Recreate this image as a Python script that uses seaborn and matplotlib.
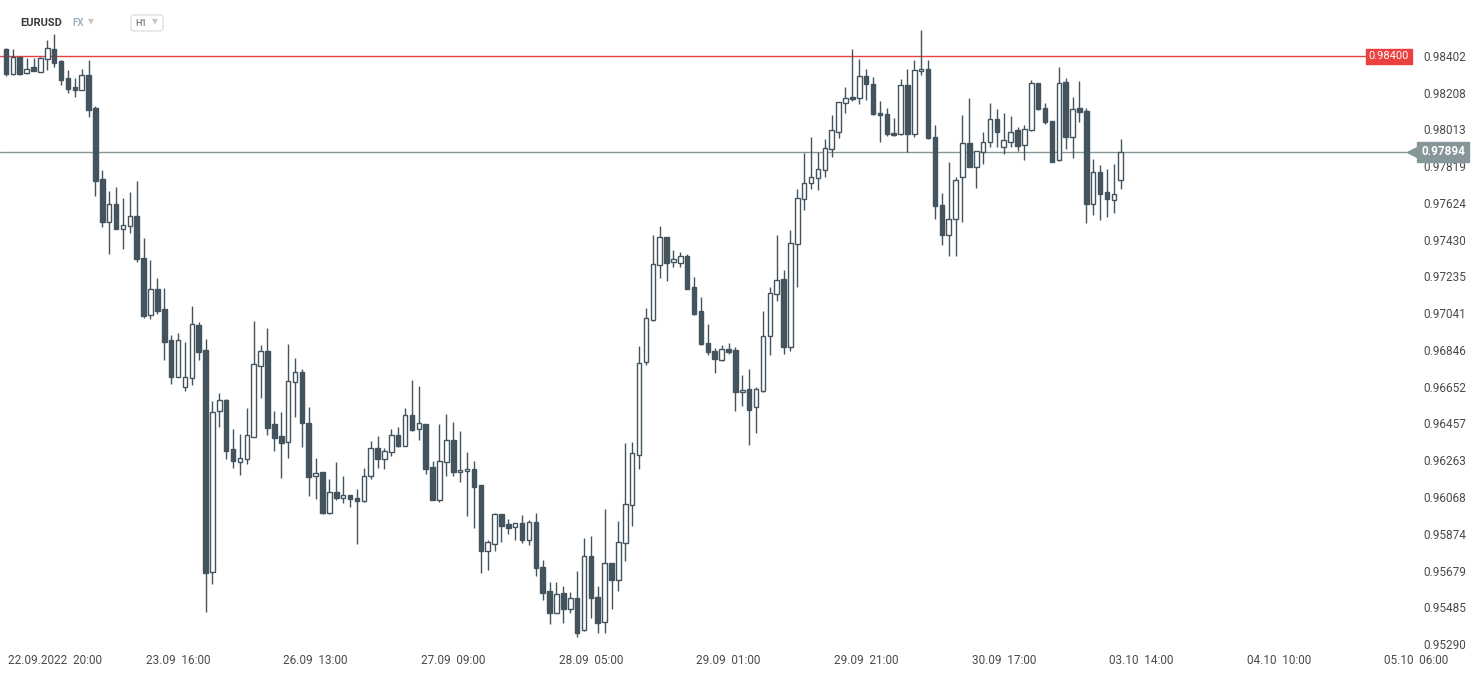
import matplotlib
matplotlib.use("Agg")
import matplotlib.pyplot as plt
import matplotlib.transforms as mtransforms
from matplotlib.patches import FancyBboxPatch
import numpy as np
import pandas as pd
import seaborn as sns

# --- EURUSD H1 candles ---
opens = [
    0.98439, 0.98305, 0.98398, 0.98314, 0.98342, 0.98319, 0.98385, 0.98437, 0.98376, 0.98286,
    0.98236, 0.98224, 0.98301, 0.98127, 0.97749, 0.97522, 0.97617, 0.97485, 0.97501, 0.97555,
    0.97333, 0.97030, 0.97167, 0.97061, 0.96897, 0.96705, 0.96649, 0.96696, 0.96978, 0.96846,
    0.95673, 0.96522, 0.96581, 0.96322, 0.96255, 0.96271, 0.96387, 0.96763, 0.96841, 0.96454,
    0.96391, 0.96358, 0.96675, 0.96730, 0.96458, 0.96178, 0.96199, 0.95985, 0.96093, 0.96061,
    0.96077, 0.96061, 0.96045, 0.96178, 0.96327, 0.96268, 0.96305, 0.96395, 0.96340, 0.96500,
    0.96426, 0.96454, 0.96225, 0.96054, 0.96252, 0.96368, 0.96199, 0.96204, 0.96215, 0.96130,
    0.95784, 0.95818, 0.95978, 0.95925, 0.95908, 0.95930, 0.95842, 0.95936, 0.95698, 0.95570,
    0.95456, 0.95560, 0.95473, 0.95532, 0.95363, 0.95754, 0.95537, 0.95408, 0.95717, 0.95627,
    0.95823, 0.96024, 0.96289, 0.96781, 0.97003, 0.97294, 0.97443, 0.97310, 0.97305, 0.97342,
    0.97178, 0.97052, 0.96881, 0.96839, 0.96792, 0.96850, 0.96844, 0.96625, 0.96638, 0.96546,
    0.96627, 0.96919, 0.97141, 0.97220, 0.96864, 0.97405, 0.97644, 0.97728, 0.97755, 0.97797,
    0.97908, 0.97998, 0.98152, 0.98183, 0.98178, 0.98295, 0.98252, 0.98099, 0.98093, 0.97993,
    0.97988, 0.98247, 0.97988, 0.98321, 0.98332, 0.97972, 0.97612, 0.97453, 0.97538, 0.97760,
    0.97940, 0.97816, 0.97896, 0.97945, 0.98067, 0.97919, 0.97945, 0.98009, 0.97929, 0.98009,
    0.98257, 0.98125, 0.98056, 0.97850, 0.98263, 0.97972, 0.98125, 0.98109, 0.97620, 0.97787,
    0.97681, 0.97642, 0.97747,
]
highs = [
    0.98442, 0.98439, 0.98400, 0.98390, 0.98390, 0.98398, 0.98487, 0.98518, 0.98378, 0.98328,
    0.98286, 0.98332, 0.98381, 0.98137, 0.97799, 0.97688, 0.97709, 0.97649, 0.97682, 0.97740,
    0.97439, 0.97322, 0.97227, 0.97174, 0.96925, 0.96936, 0.96887, 0.97079, 0.96994, 0.96903,
    0.96576, 0.96618, 0.96588, 0.96428, 0.96401, 0.96541, 0.97000, 0.96873, 0.96962, 0.96523,
    0.96518, 0.96878, 0.96804, 0.96745, 0.96543, 0.96274, 0.96201, 0.96163, 0.96253, 0.96179,
    0.96079, 0.96110, 0.96221, 0.96364, 0.96391, 0.96327, 0.96426, 0.96438, 0.96539, 0.96687,
    0.96656, 0.96456, 0.96259, 0.96454, 0.96507, 0.96465, 0.96417, 0.96306, 0.96259, 0.96132,
    0.95840, 0.95983, 0.95980, 0.95952, 0.95932, 0.95973, 0.95946, 0.95983, 0.95735, 0.95618,
    0.95618, 0.95597, 0.95565, 0.95678, 0.95850, 0.95862, 0.95595, 0.96004, 0.95719, 0.95941,
    0.96354, 0.96359, 0.96867, 0.97068, 0.97455, 0.97502, 0.97445, 0.97375, 0.97365, 0.97354,
    0.97231, 0.97125, 0.96982, 0.96855, 0.96871, 0.96881, 0.96860, 0.96712, 0.96744, 0.96652,
    0.97051, 0.97178, 0.97453, 0.97269, 0.97480, 0.97698, 0.97890, 0.97972, 0.97892, 0.97961,
    0.98090, 0.98159, 0.98236, 0.98439, 0.98385, 0.98332, 0.98289, 0.98162, 0.98125, 0.98072,
    0.98279, 0.98332, 0.98379, 0.98540, 0.98379, 0.98035, 0.97675, 0.97839, 0.97760, 0.98090,
    0.98180, 0.97900, 0.98000, 0.98153, 0.98122, 0.98100, 0.98084, 0.98025, 0.98035, 0.98275,
    0.98259, 0.98152, 0.98058, 0.98344, 0.98284, 0.98185, 0.98268, 0.98125, 0.97855, 0.97827,
    0.97804, 0.97830, 0.97963,
]
lows = [
    0.98298, 0.98303, 0.98303, 0.98305, 0.98322, 0.98317, 0.98328, 0.98342, 0.98249, 0.98208,
    0.98187, 0.98222, 0.98081, 0.97663, 0.97499, 0.97356, 0.97486, 0.97382, 0.97467, 0.97310,
    0.97017, 0.97012, 0.97038, 0.96795, 0.96668, 0.96703, 0.96631, 0.96662, 0.96793, 0.95461,
    0.95608, 0.96440, 0.96269, 0.96223, 0.96186, 0.96243, 0.96385, 0.96594, 0.96398, 0.96313,
    0.96170, 0.96272, 0.96493, 0.96334, 0.96075, 0.96059, 0.95976, 0.95976, 0.96050, 0.96038,
    0.96017, 0.95818, 0.96043, 0.96165, 0.96223, 0.96215, 0.96287, 0.96334, 0.96338, 0.96419,
    0.96371, 0.96191, 0.96052, 0.96043, 0.96181, 0.96181, 0.96149, 0.95969, 0.95906, 0.95667,
    0.95682, 0.95782, 0.95831, 0.95874, 0.95840, 0.95826, 0.95816, 0.95651, 0.95524, 0.95397,
    0.95454, 0.95403, 0.95454, 0.95329, 0.95361, 0.95429, 0.95350, 0.95350, 0.95477, 0.95572,
    0.95731, 0.95913, 0.96218, 0.96768, 0.97001, 0.97226, 0.97210, 0.97284, 0.97284, 0.97168,
    0.97033, 0.96874, 0.96821, 0.96726, 0.96786, 0.96823, 0.96525, 0.96551, 0.96342, 0.96405,
    0.96625, 0.96818, 0.97104, 0.96823, 0.96839, 0.97178, 0.97585, 0.97700, 0.97691, 0.97760,
    0.97866, 0.97970, 0.98099, 0.98162, 0.98146, 0.98168, 0.98091, 0.97945, 0.97977, 0.97977,
    0.97986, 0.97892, 0.97972, 0.98300, 0.97964, 0.97541, 0.97400, 0.97342, 0.97342, 0.97525,
    0.97814, 0.97702, 0.97829, 0.97919, 0.97919, 0.97882, 0.97919, 0.97898, 0.97850, 0.98007,
    0.98118, 0.98041, 0.97841, 0.97845, 0.97911, 0.97864, 0.98051, 0.97520, 0.97562, 0.97536,
    0.97552, 0.97573, 0.97700,
]
closes = [
    0.98305, 0.98398, 0.98305, 0.98332, 0.98324, 0.98390, 0.98443, 0.98367, 0.98275, 0.98229,
    0.98224, 0.98300, 0.98116, 0.97742, 0.97522, 0.97617, 0.97488, 0.97506, 0.97554, 0.97329,
    0.97028, 0.97167, 0.97054, 0.96890, 0.96705, 0.96897, 0.96702, 0.96982, 0.96837, 0.95667,
    0.96516, 0.96581, 0.96313, 0.96260, 0.96273, 0.96395, 0.96772, 0.96841, 0.96435, 0.96382,
    0.96355, 0.96682, 0.96728, 0.96458, 0.96172, 0.96197, 0.95985, 0.96093, 0.96061, 0.96077,
    0.96056, 0.96045, 0.96178, 0.96327, 0.96268, 0.96311, 0.96395, 0.96340, 0.96500, 0.96423,
    0.96458, 0.96218, 0.96054, 0.96257, 0.96368, 0.96202, 0.96209, 0.96215, 0.96123, 0.95784,
    0.95830, 0.95978, 0.95916, 0.95906, 0.95930, 0.95842, 0.95936, 0.95692, 0.95562, 0.95456,
    0.95555, 0.95477, 0.95532, 0.95350, 0.95754, 0.95532, 0.95403, 0.95717, 0.95627, 0.95828,
    0.96029, 0.96299, 0.96776, 0.97014, 0.97300, 0.97443, 0.97305, 0.97326, 0.97342, 0.97170,
    0.97038, 0.96876, 0.96834, 0.96797, 0.96850, 0.96837, 0.96625, 0.96636, 0.96530, 0.96638,
    0.96919, 0.97146, 0.97215, 0.96864, 0.97411, 0.97649, 0.97728, 0.97760, 0.97802, 0.97914,
    0.98009, 0.98157, 0.98178, 0.98173, 0.98295, 0.98252, 0.98093, 0.98088, 0.97988, 0.97982,
    0.98247, 0.97988, 0.98326, 0.98332, 0.97966, 0.97607, 0.97453, 0.97541, 0.97744, 0.97940,
    0.97816, 0.97898, 0.97945, 0.98067, 0.98001, 0.97956, 0.97998, 0.97924, 0.98014, 0.98257,
    0.98120, 0.98051, 0.97843, 0.98257, 0.97972, 0.98120, 0.98104, 0.97620, 0.97787, 0.97673,
    0.97647, 0.97670, 0.97894,
]

level_price = 0.98400
last_price = 0.97894

y_tick_labels = ["0.98402", "0.98208", "0.98013", "0.97819", "0.97624", "0.97430",
                 "0.97235", "0.97041", "0.96846", "0.96652", "0.96457", "0.96263",
                 "0.96068", "0.95874", "0.95679", "0.95485", "0.95290"]
x_tick_index = [5, 25, 45, 65, 85, 105, 125, 145, 165, 185, 205]
x_tick_labels = ["22.09.2022  20:00", "23.09  16:00", "26.09  13:00", "27.09  09:00",
                 "28.09  05:00", "29.09  01:00", "29.09  21:00", "30.09  17:00",
                 "03.10  14:00", "04.10  10:00", "05.10  06:00"]

# --- style ---
sns.set_style("white")
plt.rcParams['font.family'] = ['Roboto', 'DejaVu Sans']

DARK = "#44545f"
RED = "#ea4040"
GREY = "#879699"
TXT = "#4a4a4a"

df = pd.DataFrame({"open": opens, "high": highs, "low": lows, "close": closes})
df["idx"] = np.arange(len(df))
df["up"] = df["close"] >= df["open"]
df["body_lo"] = df[["open", "close"]].min(axis=1)
df["body_h"] = (df["close"] - df["open"]).abs().clip(lower=0.00004)

W, H = 1482, 674
fig = plt.figure(figsize=(W / 100, H / 100), dpi=100)
ax = fig.add_axes([0, 26 / H, 1418 / W, 648 / H])

# wicks
ax.vlines(df["idx"], df["low"], df["high"], color=DARK, lw=1.0, zorder=2)
# bodies
ax.bar(df["idx"], df["body_h"], bottom=df["body_lo"], width=0.66,
       color=np.where(df["up"], "white", DARK), edgecolor=DARK, linewidth=1.0, zorder=3)

# horizontal levels
ax.axhline(level_price, color=RED, lw=1.0, zorder=1, xmax=1365 / 1418)
ax.axhline(last_price, color=GREY, lw=1.0, zorder=1)

# axes limits (price scale: 0.98402 at 56 px from top, 0.95290 at 644 px)
ax.set_xlim(-0.87, 205.2)
ax.set_ylim(0.95269, 0.98698)

ax.yaxis.tick_right()
ax.set_yticks([float(v) for v in y_tick_labels])
ax.set_yticklabels(y_tick_labels)
ax.set_xticks(x_tick_index)
ax.set_xticklabels(x_tick_labels)
ax.tick_params(axis="both", length=0, labelsize=8.5, labelcolor=TXT)
ax.tick_params(axis="y", pad=4)
ax.tick_params(axis="x", pad=4)
for s in ax.spines.values():
    s.set_visible(False)

# first date label is pushed in so it is not cut off
first = ax.get_xticklabels()[0]
first.set_transform(first.get_transform() +
                    mtransforms.ScaledTranslation(15 / 100, 0, fig.dpi_scale_trans))

# price tags
ax.text(1389 / 1418, level_price, "0.98400", transform=ax.get_yaxis_transform(),
        ha="center", va="center", color="white", fontsize=8,
        bbox=dict(boxstyle="square,pad=0.25", fc=RED, ec=RED), zorder=5)
ax.text(1443 / 1418, last_price, "0.97894", transform=ax.get_yaxis_transform(),
        ha="center", va="center", color="white", fontsize=8.5, fontweight="bold",
        bbox=dict(boxstyle="square,pad=0.3", fc=GREY, ec=GREY), zorder=5, clip_on=False)
ax.plot([1413 / 1418], [last_price], transform=ax.get_yaxis_transform(), marker="<",
        ms=9, color=GREY, mec=GREY, clip_on=False, zorder=5)

# header
fig.text(20 / W, 1 - 23 / H, "EURUSD", fontsize=8, fontweight="bold", color="#3a3a3a", va="center")
fig.text(72 / W, 1 - 23 / H, "FX", fontsize=7, fontweight="bold", color="#9fb3c4", va="center")
fig.text(88 / W, 1 - 22 / H, "▼", fontsize=5.5, color="#c8c8c8", va="center",
         family=["DejaVu Sans"])
fig.patches.append(FancyBboxPatch((131 / W, 1 - 31 / H), 32 / W, 16 / H,
                                  boxstyle="round,pad=0,rounding_size=0.003",
                                  transform=fig.transFigure, fc="white", ec="#e0e0e0", lw=1))
fig.text(135 / W, 1 - 23 / H, "H1", fontsize=6.5, color="#555555", va="center")
fig.text(152 / W, 1 - 22 / H, "▼", fontsize=5.5, color="#c8c8c8", va="center",
         family=["DejaVu Sans"])

fig.savefig("out.png", dpi=100)
